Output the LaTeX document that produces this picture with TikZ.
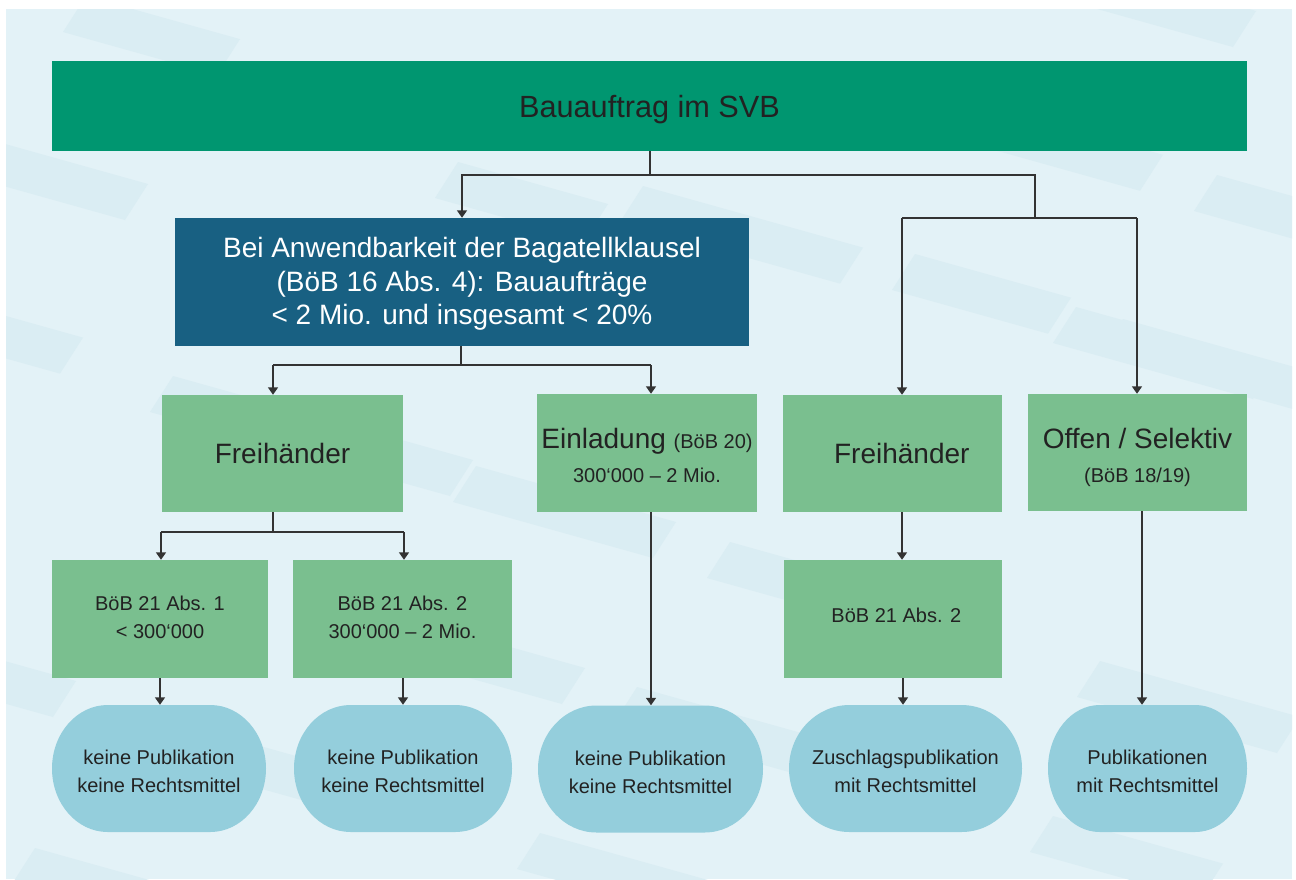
\documentclass[tikz,border=0pt]{standalone}
\usepackage{fontspec}
\setmainfont{Liberation Sans}
\usetikzlibrary{arrows.meta}

\definecolor{panel}{HTML}{E3F2F7}
\definecolor{stripe}{HTML}{DAEDF3}
\definecolor{topgreen}{HTML}{009670}
\definecolor{deepblue}{HTML}{186082}
\definecolor{softgreen}{HTML}{7ABF8F}
\definecolor{pill}{HTML}{94CEDC}
\definecolor{ink}{HTML}{222222}
\definecolor{wire}{HTML}{333333}

% faint slanted band of the backdrop: lower-left corner (x,y), run length
\newcommand{\bgstripe}[3]{\fill[stripe] (#1,#2) -- ++(23,-36) -- ++(#3,{0.28*#3}) -- ++(-23,36) -- cycle;}
% invisible struts that nudge a text block down (tall first line) or up (deep last line)
\newcommand{\tall}[1]{\rule{0pt}{#1}}
\newcommand{\deep}[1]{\rule[-#1]{0pt}{0pt}}
\newcommand{\sm}{\fontsize{15}{18}\selectfont}

\tikzset{
  wh/.style 2 args={minimum width=0.75*#1pt, minimum height=0.75*#2pt},
  card/.style={rectangle, inner sep=0pt, align=center, text=ink},
  headbox/.style={card, fill=topgreen, font=\fontsize{23}{28}\selectfont},
  bagbox/.style={card, fill=deepblue, text=white, font=\fontsize{21}{25}\selectfont},
  procbox/.style={card, fill=softgreen, font=\fontsize{21}{25}\selectfont},
  rulebox/.style={card, fill=softgreen, font=\fontsize{15}{21}\selectfont},
  % outcome capsule with elliptic ends
  pillbox/.style 2 args={card, font=\fontsize{15}{21}\selectfont, wh={#1}{#2},
    path picture={
      \fill[pill]
        ([xshift=0.75*0.26*#1pt]path picture bounding box.north west)
        -- ([xshift=-0.75*0.26*#1pt]path picture bounding box.north east)
        arc[start angle=90, end angle=-90, x radius=0.75*0.26*#1pt, y radius=0.375*#2pt]
        -- ([xshift=0.75*0.26*#1pt]path picture bounding box.south west)
        arc[start angle=270, end angle=90, x radius=0.75*0.26*#1pt, y radius=0.375*#2pt]
        -- cycle;
    }},
  wireline/.style={draw=wire, line width=0.9pt},
  flow/.style={wireline, -{Triangle[length=5.5pt,width=7.5pt]}},
}

\begin{document}
\begin{tikzpicture}[x=0.75pt,y=-0.75pt]
\useasboundingbox (0,0) rectangle (1296,879);
\fill[white] (0,0) rectangle (1296,879);
\fill[panel] (6,9) rectangle (1292,879);

% backdrop bands
\begin{scope}
\clip (6,9) rectangle (1292,879);
\bgstripe{63}{32}{154}
\bgstripe{-75}{164}{200}
\bgstripe{150}{412}{300}
\bgstripe{435}{198}{150}
\bgstripe{620}{222}{220}
\bgstripe{892}{290}{156}
\bgstripe{1100}{355}{200}
\bgstripe{1083}{5}{150}
\bgstripe{980}{146}{160}
\bgstripe{1194}{211}{150}
\bgstripe{453}{502}{200}
\bgstripe{707}{578}{200}
\bgstripe{412}{662}{150}
\bgstripe{614}{723}{200}
\bgstripe{517}{869}{200}
\bgstripe{12}{884}{200}
\bgstripe{1030}{852}{170}
\bgstripe{1077}{697}{200}
\bgstripe{-97}{675}{150}
\bgstripe{1053}{343}{200}
\bgstripe{-60}{340}{120}
\bgstripe{230}{780}{160}
\end{scope}

% boxes
\node[headbox, wh={1195}{90}] (top) at (649.5,106) {\tall{21.4pt}Bauauftrag im SVB};
\node[bagbox, wh={574}{128}] (bag) at (462,282)
  {\tall{18.3pt}Bei Anwendbarkeit der Bagatellklausel\\(BöB 16 Abs. 4): Bauaufträge\\< 2 Mio. und insgesamt < 20\%};

\node[procbox, wh={241}{117}] (f1) at (282.5,453.5) {Freihänder};
\node[procbox, wh={220}{118}] (ein) at (647,453)
  {\tall{19.1pt}Einladung {\sm(BöB 20)}\\{\sm 300‘000 – 2 Mio.}};
\node[procbox, wh={219}{117}] (f2) at (892.5,453.5) {\hspace*{14pt}Freihänder};
\node[procbox, wh={219}{117}] (off) at (1137.5,452.5)
  {\tall{22.8pt}Offen / Selektiv\\{\sm (BöB 18/19)}};

\node[rulebox, wh={216}{118}] (b1) at (160,619) {BöB 21 Abs. 1\\< 300‘000\deep{3pt}};
\node[rulebox, wh={219}{118}] (b2) at (402.5,619) {BöB 21 Abs. 2\\300‘000 – 2 Mio.\deep{3pt}};
\node[rulebox, wh={218}{118}] (b3) at (893,619) {\hspace*{5pt}BöB 21 Abs. 2\deep{6pt}};

\node[pillbox={214}{127}] (e1) at (159,768.5) {\tall{15.5pt}keine Publikation\\keine Rechtsmittel};
\node[pillbox={218}{127}] (e2) at (403,768.5) {\tall{15.5pt}keine Publikation\\keine Rechtsmittel};
\node[pillbox={225}{127}] (e3) at (650.5,769) {\tall{15.5pt}keine Publikation\\keine Rechtsmittel};
\node[pillbox={233}{127}] (e4) at (905.5,768.5) {\tall{15.5pt}Zuschlagspublikation\\mit Rechtsmittel};
\node[pillbox={199}{127}] (e5) at (1147.5,768.5) {\tall{15.5pt}Publikationen\\mit Rechtsmittel};

% connector columns and bus levels
\coordinate (xa) at (650,0);
\coordinate (xf1) at (273,0);
\coordinate (xein) at (651,0);
\coordinate (xb1) at (161,0);
\coordinate (xb2) at (404,0);
\coordinate (xf2) at (902,0);
\coordinate (xoffin) at (1137,0);
\coordinate (xoffout) at (1142,0);
\coordinate (xe1) at (160,0);
\coordinate (xe2) at (403,0);
\coordinate (xe4) at (903,0);
\coordinate (busA) at (650,175);
\coordinate (busB) at (1035,218);
\coordinate (busC) at (461,365);
\coordinate (busD) at (273,532);

% top level split
\draw[wireline] (top.south -| xa) -- (busA);
\draw[flow] (busA) -| (bag.north);
\draw[wireline] (busA) -| (busB);
\draw[wireline] (busB) -- (busB -| xf2);
\draw[wireline] (busB) -- (busB -| xoffin);
\draw[flow] (busB -| xf2) -- (f2.north -| xf2);
\draw[flow] (busB -| xoffin) -- (off.north -| xoffin);

% below the Bagatellklausel box
\draw[wireline] (bag.south -| busC) -- (busC);
\draw[wireline] (busC -| xf1) -- (busC -| xein);
\draw[flow] (busC -| xf1) -- (f1.north -| xf1);
\draw[flow] (busC -| xein) -- (ein.north -| xein);

% below the left Freihänder box
\draw[wireline] (f1.south -| busD) -- (busD);
\draw[wireline] (busD -| xb1) -- (busD -| xb2);
\draw[flow] (busD -| xb1) -- (b1.north -| xb1);
\draw[flow] (busD -| xb2) -- (b2.north -| xb2);

% into the outcomes
\draw[flow] (b1.south -| xe1) -- (e1.north -| xe1);
\draw[flow] (b2.south -| xe2) -- (e2.north -| xe2);
\draw[flow] (ein.south -| xein) -- (e3.north -| xein);
\draw[flow] (f2.south -| xf2) -- (b3.north -| xf2);
\draw[flow] (b3.south -| xe4) -- (e4.north -| xe4);
\draw[flow] (off.south -| xoffout) -- (e5.north -| xoffout);
\end{tikzpicture}
\end{document}
